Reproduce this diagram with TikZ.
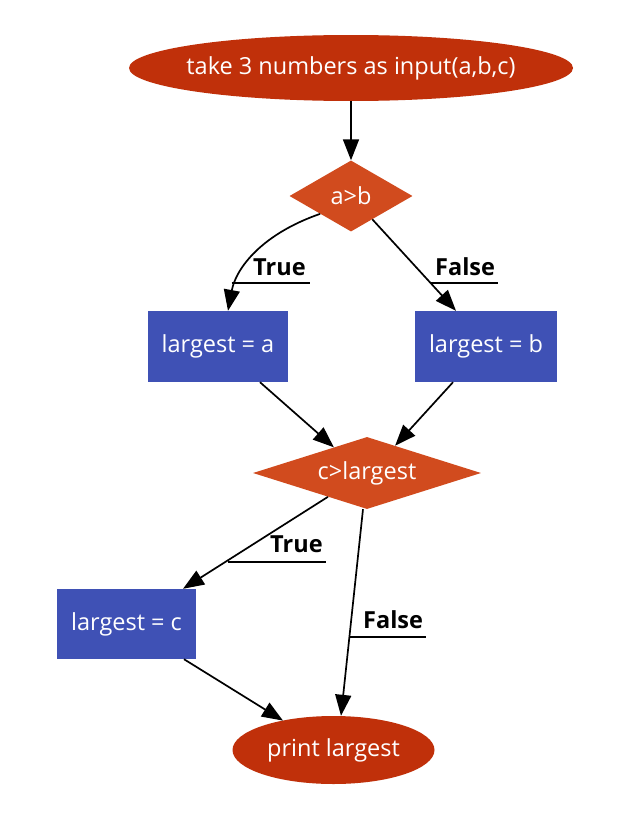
\documentclass[tikz,border=0pt]{standalone}
\usepackage{fontspec}
\setmainfont{Open Sans}
\usetikzlibrary{shapes.geometric,arrows.meta,calc}
\definecolor{termred}{RGB}{192,48,10}
\definecolor{decred}{RGB}{209,75,30}
\definecolor{procblue}{RGB}{63,81,181}
\begin{document}
\begin{tikzpicture}[x=1pt,y=-1pt,
  nodefont/.style={font=\fontsize{23.5}{28}\selectfont},
  term/.style={ellipse, fill=termred, text=white, inner ysep=0pt, inner xsep=-40pt, nodefont},
  decision/.style={diamond, fill=decred, text=white, inner sep=0pt, nodefont},
  procbox/.style={rectangle, fill=procblue, text=white, inner sep=0pt, nodefont},
  conn/.style={line width=1.7pt, -{Triangle[length=21pt,width=16pt]}},
  lbl/.style={font=\bfseries\fontsize{23.5}{28}\selectfont, inner sep=0pt, anchor=base west},
  uline/.style={line width=1.7pt}]
\useasboundingbox[fill=white] (0,0) rectangle (642,835);

\node[term, minimum width=444pt, minimum height=66pt] (start) at (351,68) {take 3 numbers as input(a,b,c)};
\node[decision, minimum width=123pt, minimum height=71pt, shape aspect=1.73] (ab) at (351,196) {a>b};
\node[procbox, minimum width=140pt, minimum height=71pt] (boxa) at (218,346.5) {largest = a};
\node[procbox, minimum width=142pt, minimum height=71pt] (boxb) at (486,346.5) {largest = b};
\node[decision, minimum width=228pt, minimum height=72pt, shape aspect=3.17] (cl) at (367,473) {c>largest};
\node[procbox, minimum width=139pt, minimum height=70pt] (boxc) at (126.5,624) {largest = c};
\node[term, minimum width=202pt, minimum height=68pt] (stop) at (333.5,750) {print largest};

% edges
\draw[conn] (start) -- (ab);
\draw[conn] (ab.south west) .. controls (262,234) and (236,268) .. ($(boxa.north)+(10,0)$);
\draw[conn] (ab) -- ($(boxb.north)+(-30,0)$);
\draw[conn] ($(boxa.south)+(42,0)$) -- ($(cl.north)!0.29!(cl.west)$);
\draw[conn] ($(boxb.south)+(-33,0)$) -- ($(cl.north)!0.246!(cl.east)$);
\draw[conn] ($(cl.west)!0.658!(cl.south)$) -- ($(boxc.north)+(56.5,0)$);
\draw[conn] ($(cl.south)+(-4,0)$) -- ($(stop.north)+(7.5,0)$);
\draw[conn] ($(boxc.south)+(57.5,0)$) -- ($(stop.center)+(-50.5,-29.4)$);

% labels
\node[lbl] (t1) at (253,275) {True};
\draw[uline] (231.7,283.3) -- (310,283.3);
\node[lbl] (f1) at (435,275) {False};
\draw[uline] (431,283.3) -- (498,283.3);
\node[lbl] (t2) at (270,552.7) {True};
\draw[uline] (228,561.7) -- (326,561.7);
\node[lbl] (f2) at (363,628) {False};
\draw[uline] (349,637) -- (426,637);
\end{tikzpicture}
\end{document}
